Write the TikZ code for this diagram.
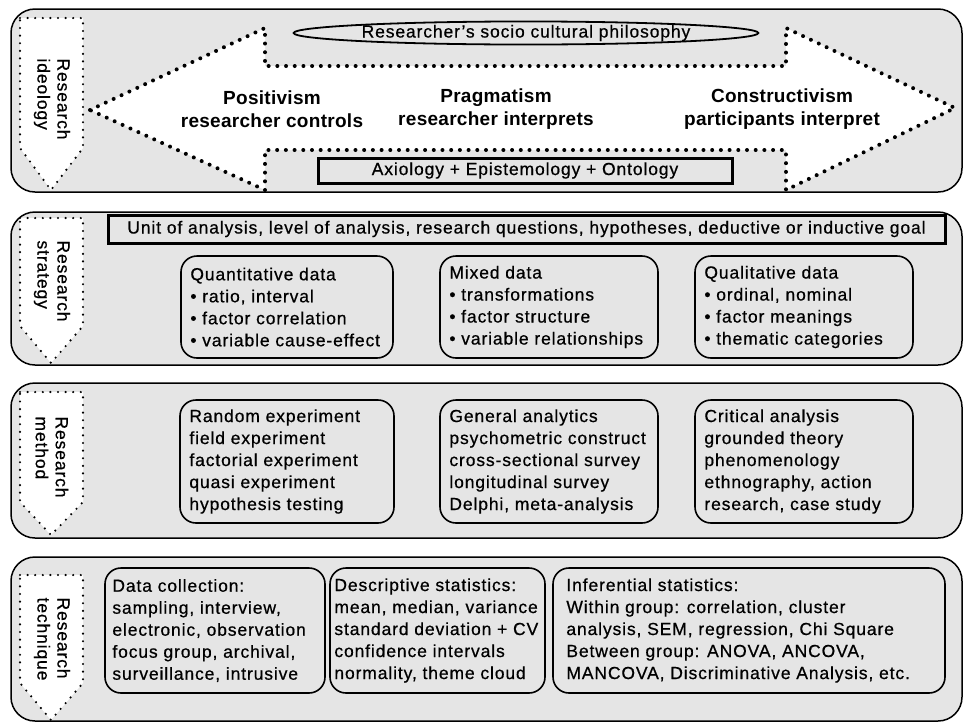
\documentclass[tikz,border=0pt]{standalone}
\usepackage{fontspec}
\setmainfont{Liberation Sans}[LetterSpace=5, FakeBold=0.6]
\newfontfamily\headfont{Liberation Sans}[LetterSpace=1.5]
\usetikzlibrary{shapes.geometric}

\definecolor{panelgrey}{RGB}{229,229,229}

\tikzset{
  panel/.style={draw=black, line width=1.5pt, fill=panelgrey, rounded corners=24pt},
  tagarrow/.style={fill=white, draw=black, line width=2.4pt, dash pattern=on 0pt off 7.6pt, line cap=round},
  bigarrow/.style={fill=white, draw=black, line width=4pt, dash pattern=on 0pt off 8.7pt, line cap=round},
  tagtext/.style={rotate=-90, align=left, font=\fontsize{17.5}{20}\selectfont, inner sep=0pt},
  headtext/.style={align=center, font=\headfont\bfseries\fontsize{19}{23.5}\selectfont, inner sep=0pt},
  framebox/.style={draw=black, line width=3pt, inner sep=0pt},
  databox/.style={draw=black, line width=1.6pt, rounded corners=16pt, inner sep=0pt},
  boxtext/.style={anchor=west, align=left, inner sep=0pt, font=\fontsize{17.5}{22}\selectfont},
}

\begin{document}
\begin{tikzpicture}[x=1pt, y=-1pt]
\useasboundingbox (0,0) rectangle (966,726);

% ---------- four bands ----------
\draw[panel] (11,9)   rectangle (962,192);
\draw[panel] (11,212) rectangle (962,365);
\draw[panel] (11,383) rectangle (962,538);
\draw[panel] (11,557) rectangle (962,721);

% ---------- band tags ----------
\draw[tagarrow] (20,18) -- (83,18) -- (83,148) -- (51,190) -- (20,148) -- cycle;
\draw[tagarrow] (20,218) -- (83,218) -- (83,326) -- (51,363) -- (20,326) -- cycle;
\draw[tagarrow] (20,392) -- (83,392) -- (83,502) -- (51,535) -- (20,502) -- cycle;
\draw[tagarrow] (20,575) -- (83,575) -- (83,683) -- (51,720) -- (20,683) -- cycle;

\node[tagtext] (tag1) at (52,99)  {Research\\ideology};
\node[tagtext] (tag2) at (52,281) {Research\\strategy};
\node[tagtext] (tag3) at (52,457) {Research\\method};
\node[tagtext] (tag4) at (52,639) {Research\\technique};

% ---------- research ideology ----------
\draw[bigarrow] (90,110) -- (265,28) -- (265,66) -- (786,66) -- (786,28)
  -- (955,108) -- (786,190) -- (786,150) -- (265,150) -- (265,190) -- cycle;

\node[ellipse, draw=black, line width=1.8pt, minimum width=448pt, minimum height=23pt,
      inner sep=0pt, font=\fontsize{17.5}{18}\selectfont] (philo) at (526,33)
  {Researcher's socio cultural philosophy};

\node[headtext] (posit) at (272,109) {Positivism\\researcher controls};
\node[headtext] (pragm) at (496,109) {Pragmatism\\researcher interprets};
\node[headtext] (const) at (782,109) {Constructivism\\participants interpret};

\node[framebox, minimum width=414pt, minimum height=25pt,
      font=\fontsize{17.5}{20}\selectfont] (axio) at (525,170.5)
  {Axiology + Epistemology + Ontology};

% ---------- research strategy ----------
\node[framebox, minimum width=837pt, minimum height=28pt,
      font=\fontsize{17.5}{20}\selectfont] (unit) at (526.5,229)
  {Unit of analysis, level of analysis, research questions, hypotheses, deductive or inductive goal};

\node[databox, minimum width=212pt, minimum height=102pt] (quant) at (287,307) {};
\node[boxtext] (quanttext) at ([xshift=10pt]quant.west)
  {Quantitative data\\• ratio, interval\\• factor correlation\\• variable cause-effect};

\node[databox, minimum width=218pt, minimum height=102pt] (mixed) at (549,307) {};
\node[boxtext] (mixedtext) at ([xshift=10pt]mixed.west)
  {Mixed data\\• transformations\\• factor structure\\• variable relationships};

\node[databox, minimum width=218pt, minimum height=102pt] (qual) at (804,307) {};
\node[boxtext] (qualtext) at ([xshift=10pt]qual.west)
  {Qualitative data\\• ordinal, nominal\\• factor meanings\\• thematic categories};

% ---------- research method ----------
\node[databox, minimum width=214pt, minimum height=123pt] (quantm) at (287,461.5) {};
\node[boxtext] (quantmtext) at ([xshift=10pt]quantm.west)
  {Random experiment\\field experiment\\factorial experiment\\quasi experiment\\hypothesis testing};

\node[databox, minimum width=218pt, minimum height=123pt] (mixedm) at (549,461.5) {};
\node[boxtext] (mixedmtext) at ([xshift=10pt]mixedm.west)
  {General analytics\\psychometric construct\\cross-sectional survey\\longitudinal survey\\Delphi, meta-analysis};

\node[databox, minimum width=218pt, minimum height=123pt] (qualm) at (804,461.5) {};
\node[boxtext] (qualmtext) at ([xshift=10pt]qualm.west)
  {Critical analysis\\grounded theory\\phenomenology\\ethnography, action\\research, case study};

% ---------- research technique ----------
\node[databox, minimum width=220pt, minimum height=125pt] (collect) at (215,630.5) {};
\node[boxtext] (collecttext) at ([xshift=8pt]collect.west)
  {Data collection:\\sampling, interview,\\electronic, observation\\focus group, archival,\\surveillance, intrusive};

\node[databox, minimum width=215pt, minimum height=125pt] (descr) at (437.5,630.5) {};
\node[boxtext] (descrtext) at ([xshift=5pt]descr.west)
  {Descriptive statistics:\\mean, median, variance\\standard deviation + CV\\confidence intervals\\normality, theme cloud};

\node[databox, minimum width=392pt, minimum height=125pt] (infer) at (749,630.5) {};
\node[boxtext] (infertext) at ([xshift=14pt]infer.west)
  {Inferential statistics:\\Within group: correlation, cluster\\analysis, SEM, regression, Chi Square\\Between group: ANOVA, ANCOVA,\\MANCOVA, Discriminative Analysis, etc.};

\end{tikzpicture}
\end{document}
